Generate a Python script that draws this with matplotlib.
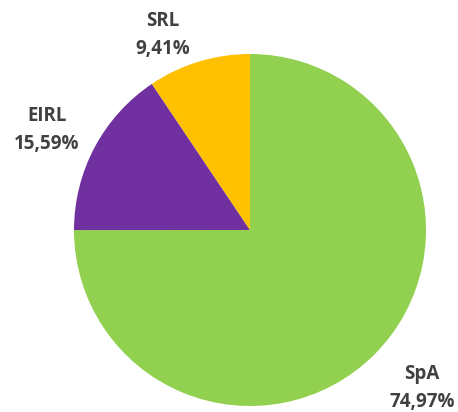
import matplotlib
matplotlib.use("Agg")
import matplotlib.pyplot as plt

categories = ["SpA", "EIRL", "SRL"]
values = [74.97, 15.59, 9.41]
labels = ["74,97%", "15,59%", "9,41%"]
colors = ["#92D050", "#7030A0", "#FFC000"]

W, H = 458, 412
fig = plt.figure(figsize=(W / 100, H / 100), dpi=100)
cx, cy, r = 250, 230, 176
ax = fig.add_axes([(cx - r) / W, (H - cy - r) / H, 2 * r / W, 2 * r / H])
ax.pie(values, colors=colors, startangle=90, counterclock=False, radius=1,
       wedgeprops=dict(linewidth=0))
ax.set_xlim(-1, 1)
ax.set_ylim(-1, 1)
ax.set_aspect("equal")
ax.axis("off")

label_px = {"SpA": (422, 388), "EIRL": (47, 130), "SRL": (163, 35)}
for cat, lab in zip(categories, labels):
    px, py = label_px[cat]
    fig.text(px / W, 1 - py / H, f"{cat}\n{lab}", ha="center", va="center",
             fontsize=13.5, fontweight="bold", color="#404040",
             family="Open Sans", linespacing=1.5)

fig.savefig("out.png", dpi=100)
